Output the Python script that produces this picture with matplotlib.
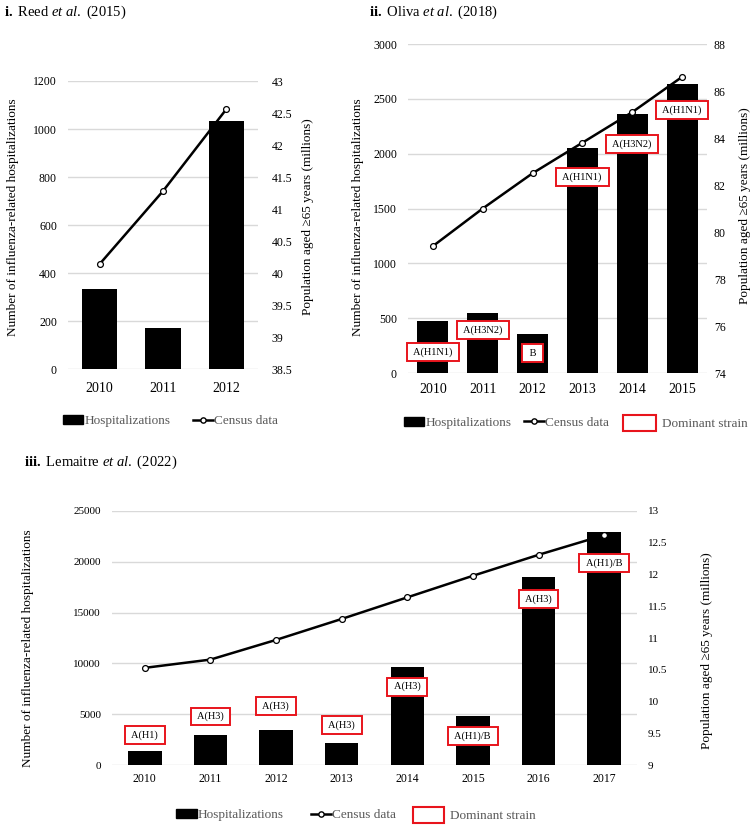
import numpy as np
import matplotlib
matplotlib.use("Agg")
import matplotlib.pyplot as plt
from matplotlib.patches import Patch
from matplotlib.lines import Line2D
from matplotlib.ticker import MultipleLocator, FuncFormatter

plt.rcParams['font.family'] = ['Liberation Serif', 'DejaVu Serif']
plt.rcParams['mathtext.fontset'] = 'custom'
plt.rcParams['mathtext.rm'] = 'Liberation Serif'
plt.rcParams['mathtext.it'] = 'Liberation Serif:italic'
plt.rcParams['mathtext.bf'] = 'Liberation Serif:bold'

# ---- data: i. Reed et al. (2015) ----
reed_years = ["2010", "2011", "2012"]
reed_hosp = [335, 171, 1033]
reed_census = [40.14, 41.28, 42.56]

# ---- data: ii. Oliva et al. (2018) ----
oliva_years = ["2010", "2011", "2012", "2013", "2014", "2015"]
oliva_hosp = [474, 547, 356, 2052, 2362, 2635]
oliva_census = [79.4, 81.0, 82.5, 83.8, 85.1, 86.6]
oliva_strain = ["A(H1N1)", "A(H3N2)", "B", "A(H1N1)", "A(H3N2)", "A(H1N1)"]
oliva_strain_y = [191, 392, 182, 1787, 2088, 2398]

# ---- data: iii. Lemaitre et al. (2022) ----
lem_years = ["2010", "2011", "2012", "2013", "2014", "2015", "2016", "2017"]
lem_hosp = [1374, 2978, 3403, 2193, 9686, 4777, 18520, 22970]
lem_census = [10.53, 10.66, 10.97, 11.30, 11.64, 11.98, 12.31, 12.62]
lem_strain = ["A(H1)", "A(H3)", "A(H3)", "A(H3)", "A(H3)", "A(H1)/B", "A(H3)", "A(H1)/B"]
lem_strain_y = [2907, 4774, 5824, 3927, 7718, 2878, 16360, 19890]

W, H = 755, 838
fig = plt.figure(figsize=(W / 100, H / 100), dpi=100)


def px_axes(left, top, right, bottom):
    return fig.add_axes([left / W, 1 - bottom / H, (right - left) / W, (bottom - top) / H])


fmt = FuncFormatter(lambda v, p: f"{v:g}")
ylab = "Number of influenza-related hospitalizations"
rlab = "Population aged \u226565 years (millions)"


def panel(ax, years, hosp, census, ylim, ystep, rlim, rstep, barw,
          yfs, xfs, xpad, lpad, rpad, lab_fs, lcoords, rcoords):
    x = np.arange(len(years))
    ax.bar(x, hosp, width=barw, color="black", zorder=2)
    ax.set_xlim(-0.5, len(years) - 0.5)
    ax.set_ylim(*ylim)
    ax.yaxis.set_major_locator(MultipleLocator(ystep))
    ax.set_xticks(x)
    ax.set_xticklabels(years, fontsize=xfs)
    ax.grid(axis="y", color="#d9d9d9", lw=1.0)
    ax.set_axisbelow(True)
    ax2 = ax.twinx()
    ax2.plot(x, census, color="black", lw=1.8, marker="o", ms=4.2,
             mfc="white", mec="black", mew=0.9, zorder=3)
    ax2.set_ylim(*rlim)
    ax2.yaxis.set_major_locator(MultipleLocator(rstep))
    ax2.yaxis.set_major_formatter(fmt)
    for a in (ax, ax2):
        for s in a.spines.values():
            s.set_visible(False)
    ax.tick_params(axis="y", length=0, labelsize=yfs, pad=lpad)
    ax.tick_params(axis="x", length=0, pad=xpad)
    ax2.tick_params(axis="y", length=0, labelsize=yfs, pad=rpad)
    ax.set_ylabel(ylab, fontsize=lab_fs)
    ax2.set_ylabel(rlab, fontsize=lab_fs)
    ax.yaxis.set_label_coords(*lcoords)
    ax2.yaxis.set_label_coords(*rcoords)
    ax.yaxis.label.set_verticalalignment("center")
    ax2.yaxis.label.set_verticalalignment("center")
    return x, ax2


def strains(ax, ax2, x, labels, ys, fs):
    for xi, s, yi in zip(x, labels, ys):
        ax2.text(xi, yi, " " + s + " ", transform=ax.transData, ha="center", va="center",
                 fontsize=fs, zorder=5,
                 bbox=dict(boxstyle="square,pad=0.4", fc="white", ec="#e8141c", lw=1.4))


def legend_item(handle, label, x_px, y_px, hl, hh, pad, fs=9.5):
    fig.legend([handle], [label], loc="center left",
               bbox_to_anchor=(x_px / W, 1 - y_px / H), frameon=False,
               borderpad=0, borderaxespad=0, handlelength=hl, handleheight=hh,
               handletextpad=pad, fontsize=fs, labelcolor="#595959")


bar_h = Patch(facecolor="black", edgecolor="black")
line_h = Line2D([], [], color="black", lw=1.8, marker="o", ms=3.8, mfc="white", mec="black")
box_h = Patch(facecolor="white", edgecolor="#e8141c", lw=1.5)

# ---- panel i ----
ax = px_axes(68, 81, 258, 369)
panel(ax, reed_years, reed_hosp, reed_census, (0, 1200), 200, (38.5, 43), 0.5, 0.56,
      8.5, 10, 9, 8, 10, 9.5, (-0.289, 0.526), (1.263, 0.528))
fig.text(4 / W, 1 - 12 / H, r"$\mathbf{i.}$ Reed $\mathit{et\ al.}$ (2015)",
         fontsize=10.5, va="center", ha="left")
legend_item(bar_h, "Hospitalizations", 63, 421, 1.5, 0.6, 0.1)
legend_item(line_h, "Census data", 193, 421, 1.55, 0.7, 0.05)

# ---- panel ii ----
ax = px_axes(408, 44, 707, 373)
x, ax2 = panel(ax, oliva_years, oliva_hosp, oliva_census, (0, 3000), 500, (74, 88), 2, 0.62,
               8.5, 10, 7, 8, 5, 9.5, (-0.167, 0.474), (1.127, 0.51))
strains(ax, ax2, x, oliva_strain, oliva_strain_y, 7.5)
fig.text(369 / W, 1 - 12 / H, r"$\mathbf{ii.}$ Oliva $\mathit{et\ al.}$ (2018)",
         fontsize=10.5, va="center", ha="left")
legend_item(bar_h, "Hospitalizations", 404, 423, 1.5, 0.6, 0.1)
legend_item(line_h, "Census data", 524, 423, 1.55, 0.7, 0.05)
legend_item(box_h, "Dominant strain", 623, 423, 2.5, 1.45, 0.45)

# ---- panel iii ----
ax = px_axes(112, 511, 637, 765)
x, ax2 = panel(ax, lem_years, lem_hosp, lem_census, (0, 25000), 5000, (9, 13), 0.5, 0.51,
               8, 8.5, 6, 8, 8, 9.5, (-0.16, 0.46), (1.133, 0.45))
strains(ax, ax2, x, lem_strain, lem_strain_y, 7.5)
fig.text(24 / W, 1 - 462 / H, r"$\mathbf{iii.}$ Lemaitre $\mathit{et\ al.}$ (2022)",
         fontsize=10.5, va="center", ha="left")
legend_item(bar_h, "Hospitalizations", 176, 815, 1.6, 0.6, 0.05)
legend_item(line_h, "Census data", 311, 815, 1.55, 0.7, 0.05)
legend_item(box_h, "Dominant strain", 413, 815, 2.35, 1.45, 0.45)

fig.savefig("out.png", dpi=100, facecolor="white")
